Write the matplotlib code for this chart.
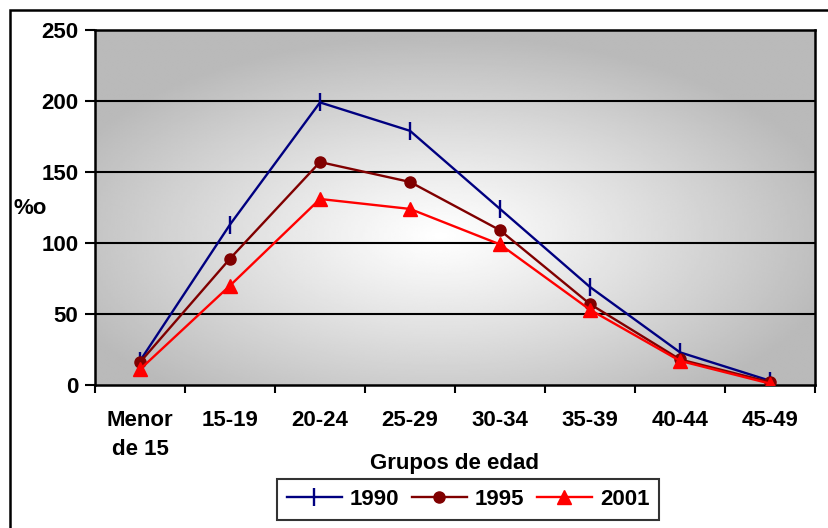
import numpy as np
import matplotlib.pyplot as plt
from matplotlib.patches import Rectangle

plt.rcParams['font.family'] = ['Liberation Sans', 'DejaVu Sans']
plt.rcParams['font.weight'] = 'bold'

grupos = ["Menor\nde 15", "15-19", "20-24", "25-29", "30-34", "35-39", "40-44", "45-49"]
tasa_1990 = [17, 113, 199, 179, 124, 69, 23, 3]
tasa_1995 = [16, 89, 157, 143, 109, 57, 18, 2]
tasa_2001 = [11, 70, 131, 124, 99, 53, 17, 1]
yticks = [0, 50, 100, 150, 200, 250]

fs = 16

fig = plt.figure(figsize=(8.29, 5.28), dpi=100)
ax = fig.add_axes([95/829, 1-385/528, 720/829, 355/528])

# outer border of the chart object
fig.patches.append(Rectangle((10/829, -0.01), 1.0, 1-10/528+0.01, transform=fig.transFigure,
                             fill=False, edgecolor='black', linewidth=1.8))

# radial gradient background
gx, gy = np.meshgrid(np.linspace(0, 1, 300), np.linspace(0, 1, 300))
r = np.sqrt(((gx - 0.48) / 0.75) ** 2 + ((gy - 0.42) / 0.75) ** 2)
shade = 1.0 - 0.27 * np.clip(r / 0.75, 0, 1) ** 1.1
ax.imshow(shade, cmap='gray', vmin=0, vmax=1, extent=[0, 1, 0, 1], origin='lower',
          transform=ax.transAxes, aspect='auto', zorder=0, interpolation='bilinear')

x = np.arange(len(grupos))
ax.plot(x, tasa_1990, color='#000080', lw=1.7, marker='|', ms=13, mew=1.7, label='1990', zorder=3)
ax.plot(x, tasa_1995, color='#800000', lw=1.7, marker='o', ms=8, label='1995', zorder=4)
ax.plot(x, tasa_2001, color='#FF0000', lw=1.7, marker='^', ms=10, label='2001', zorder=5)

ax.set_xlim(-0.5, len(grupos) - 0.5)
ax.set_ylim(0, 250)
ax.set_yticks(yticks)
ax.set_yticklabels([str(v) for v in yticks], fontsize=fs, fontweight='bold')
ax.set_xticks(x)
ax.set_xticklabels(grupos, fontsize=fs, fontweight='bold', linespacing=1.5)
ax.set_xticks(np.arange(len(grupos) + 1) - 0.5, minor=True)
ax.tick_params(axis='x', which='major', length=0, pad=18)
ax.tick_params(axis='x', which='minor', length=6, width=1.5, direction='out')
ax.tick_params(axis='y', length=7, width=1.5, direction='out', pad=5)
for yv in yticks[1:-1]:
    ax.axhline(yv, color='black', lw=1.5, zorder=1)
for s in ax.spines.values():
    s.set_linewidth(1.8)

fig.text(455/829, 1-464/528, 'Grupos de edad', fontsize=fs, fontweight='bold', ha='center', va='center')
fig.text(14/829, 1-208/528, '%o', fontsize=fs, fontweight='bold', va='center', ha='left')

leg = ax.legend(loc='upper center', bbox_to_anchor=(468/829, 1-479/528), bbox_transform=fig.transFigure,
                ncol=3, frameon=True, fancybox=False, edgecolor='black', fontsize=fs,
                handlelength=2.5, columnspacing=0.55, handletextpad=0.35, borderpad=0.45,
                borderaxespad=0)
leg.get_frame().set_linewidth(1.5)

fig.savefig('out.png', dpi=100)
